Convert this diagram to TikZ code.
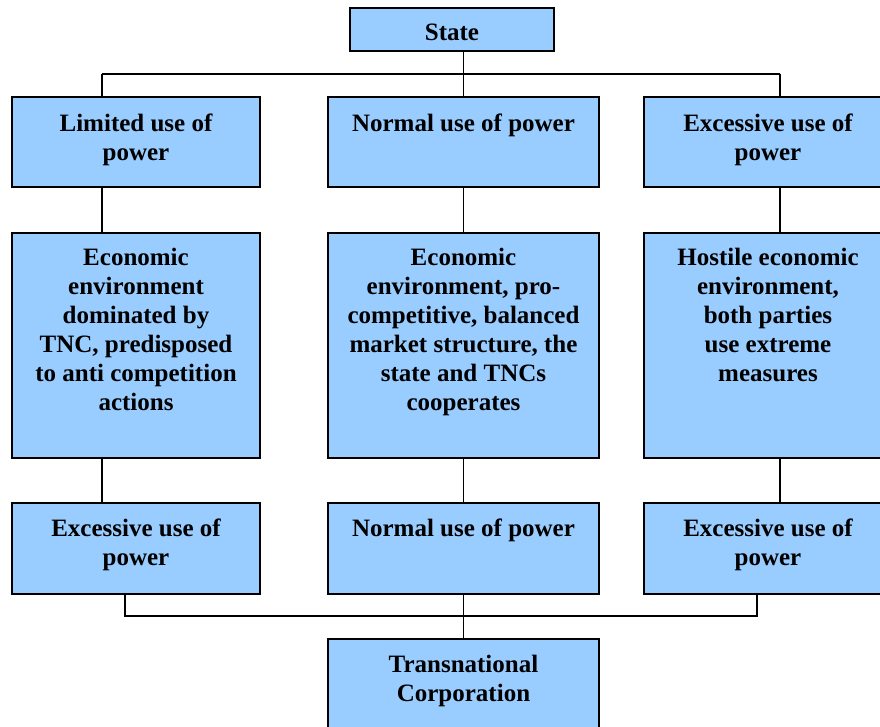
\documentclass[tikz,border=0pt]{standalone}
\usepackage{fontspec}
\setmainfont{Liberation Serif}
\definecolor{boxblue}{HTML}{99CCFF}
\begin{document}
\begin{tikzpicture}[x=1pt,y=-1pt,
  box/.style={draw=black,fill=boxblue,line width=1.5pt,rectangle,inner sep=0pt},
  txt/.style={anchor=base,inner sep=0pt,font=\bfseries\fontsize{25}{29}\selectfont},
  conn/.style={draw=black,line width=1.3pt}]
\useasboundingbox (0,0) rectangle (880,727);
\clip (0,0) rectangle (880,727);
% boxes
\node[box,minimum width=204pt,minimum height=43pt] (s) at (452,29.5) {};
\node[box,minimum width=248pt,minimum height=90pt] (l1) at (136,142) {};
\node[box,minimum width=271pt,minimum height=90pt] (m1) at (463.5,142) {};
\node[box,minimum width=248pt,minimum height=90pt] (r1) at (768,142) {};
\node[box,minimum width=248pt,minimum height=225pt] (l2) at (136,345.5) {};
\node[box,minimum width=271pt,minimum height=225pt] (m2) at (463.5,345.5) {};
\node[box,minimum width=248pt,minimum height=225pt] (r2) at (768,345.5) {};
\node[box,minimum width=248pt,minimum height=91pt] (l3) at (136,548.5) {};
\node[box,minimum width=271pt,minimum height=91pt] (m3) at (463.5,548.5) {};
\node[box,minimum width=248pt,minimum height=91pt] (r3) at (768,548.5) {};
\node[box,minimum width=271pt,minimum height=90pt] (t) at (463.5,684) {};
% texts
\node[txt] (ts) at ([yshift=-33pt]s.north) {\parbox[t]{200pt}{\centering State}};
\node[txt] (tl1) at ([yshift=-35pt]l1.north) {\parbox[t]{244pt}{\centering Limited use of\\power}};
\node[txt] (tm1) at ([yshift=-35pt]m1.north) {\parbox[t]{267pt}{\centering Normal use of power}};
\node[txt] (tr1) at ([yshift=-35pt]r1.north) {\parbox[t]{244pt}{\centering Excessive use of\\power}};
\node[txt] (tl2) at ([yshift=-33pt]l2.north) {\parbox[t]{244pt}{\centering Economic\\environment\\dominated by\\TNC, predisposed\\to anti competition\\actions}};
\node[txt] (tm2) at ([yshift=-33pt]m2.north) {\parbox[t]{267pt}{\centering Economic\\environment, pro-\\competitive, balanced\\market structure, the\\state and TNCs\\cooperates}};
\node[txt] (tr2) at ([yshift=-33pt]r2.north) {\parbox[t]{244pt}{\centering Hostile economic\\environment,\\both parties\\use extreme\\measures}};
\node[txt] (tl3) at ([yshift=-34pt]l3.north) {\parbox[t]{244pt}{\centering Excessive use of\\power}};
\node[txt] (tm3) at ([yshift=-34pt]m3.north) {\parbox[t]{267pt}{\centering Normal use of power}};
\node[txt] (tr3) at ([yshift=-34pt]r3.north) {\parbox[t]{244pt}{\centering Excessive use of\\power}};
\node[txt] (tt) at ([yshift=-34pt]t.north) {\parbox[t]{267pt}{\centering Transnational\\Corporation}};
% connector guides
\coordinate (lx) at (102,0);
\coordinate (rx) at (780,0);
\coordinate (lbx) at (125,0);
\coordinate (rbx) at (757,0);
\coordinate (topbar) at (0,74);
\coordinate (botbar) at (0,616);
% top connectors
\draw[conn] (m1.north |- s.south) -- (m1.north);
\draw[conn] (lx |- topbar) -- (rx |- topbar);
\draw[conn] (lx |- topbar) -- (lx |- l1.north);
\draw[conn] (rx |- topbar) -- (rx |- r1.north);
% middle connectors
\draw[conn] (lx |- l1.south) -- (lx |- l2.north);
\draw[conn] (m1.south) -- (m2.north);
\draw[conn] (rx |- r1.south) -- (rx |- r2.north);
\draw[conn] (lx |- l2.south) -- (lx |- l3.north);
\draw[conn] (m2.south) -- (m3.north);
\draw[conn] (rx |- r2.south) -- (rx |- r3.north);
% bottom connectors
\draw[conn] (lbx |- l3.south) -- (lbx |- botbar) -- (rbx |- botbar) -- (rbx |- r3.south);
\draw[conn] (m3.south) -- (t.north);
\end{tikzpicture}
\end{document}
